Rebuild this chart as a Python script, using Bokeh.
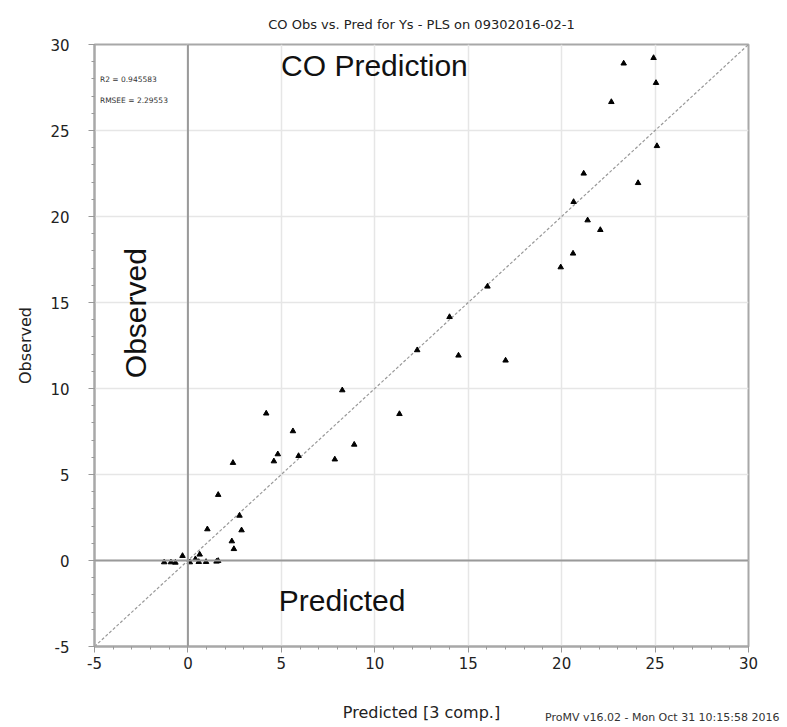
from bokeh.plotting import figure
from bokeh.models import Range1d, Span, Label, SingleIntervalTicker, PrintfTickFormatter, Div
from bokeh.layouts import column
from bokeh.embed import file_html
from bokeh.resources import INLINE
import math

# Predicted (x) vs Observed (y) values
predicted = [24.92, 23.32, 25.05, 22.66, 25.10, 21.18, 24.09, 20.64, 21.39, 22.07,
             20.61, 19.95, 16.03, 14.00, 12.27, 14.48, 17.00, 8.26, 11.32, 4.19,
             5.62, 8.90, 4.81, 5.92, 4.60, 7.86, 2.41, 1.62, 2.76, 1.04,
             2.87, 2.35, 2.46, -0.29, 0.63, 0.40, 0.10, 0.58, 0.97, 1.53,
             1.62, -1.27, -0.91, -0.67]
observed = [29.22, 28.90, 27.77, 26.66, 24.10, 22.50, 21.95, 20.85, 19.78, 19.22,
            17.85, 17.05, 15.93, 14.16, 12.23, 11.92, 11.63, 9.90, 8.52, 8.55,
            7.52, 6.74, 6.18, 6.08, 5.77, 5.88, 5.68, 3.82, 2.61, 1.82,
            1.76, 1.12, 0.67, 0.27, 0.35, 0.08, -0.10, -0.08, -0.08, -0.06,
            -0.02, -0.10, -0.10, -0.12]
diag = [-5, 30]
axis_min, axis_max = -5, 30

title_text = "CO Obs vs. Pred for Ys - PLS on 09302016-02-1"
r2_text = "R2 = 0.945583"
rmsee_text = "RMSEE = 2.29553"
footer_text = "ProMV v16.02 - Mon Oct 31 10:15:58 2016"

p = figure(width=779, height=725, output_backend="svg", toolbar_location=None,
           x_range=Range1d(axis_min, axis_max), y_range=Range1d(axis_min, axis_max),
           min_border_left=94, min_border_right=31, min_border_top=44, min_border_bottom=79,
           title=title_text)

p.title.align = "center"
p.title.vertical_align = "top"
p.title.text_font = "DejaVu Sans"
p.title.text_font_size = "13px"
p.title.text_font_style = "normal"
p.title.text_color = "#222222"
p.title.standoff = 22

p.outline_line_color = "#a8a8a8"
p.outline_line_width = 2

for ax in (p.xaxis[0], p.yaxis[0]):
    ax.ticker = SingleIntervalTicker(interval=5, num_minor_ticks=5)
    ax.formatter = PrintfTickFormatter(format="%d")
    ax.axis_line_color = "#a8a8a8"
    ax.axis_line_width = 2
    ax.major_tick_line_color = "#999999"
    ax.minor_tick_line_color = "#999999"
    ax.major_tick_out = 6
    ax.major_tick_in = 0
    ax.minor_tick_out = 3
    ax.minor_tick_in = 0
    ax.major_label_text_font = "DejaVu Sans"
    ax.major_label_text_font_size = "15px"
    ax.major_label_text_color = "#222222"
    ax.axis_label_text_font = "DejaVu Sans"
    ax.axis_label_text_font_size = "16px"
    ax.axis_label_text_font_style = "normal"
    ax.axis_label_text_color = "#222222"

p.xaxis.axis_label = "Predicted [3 comp.]"
p.yaxis.axis_label = "Observed"
p.xaxis.major_label_standoff = 4
p.xaxis.axis_label_standoff = 31
p.yaxis.major_label_standoff = 19
p.yaxis.axis_label_standoff = 12

p.grid.grid_line_color = "#e6e6e6"
p.grid.grid_line_width = 1.5

p.add_layout(Span(location=0, dimension="height", line_color="#9a9a9a", line_width=2))
p.add_layout(Span(location=0, dimension="width", line_color="#9a9a9a", line_width=2))

p.line(diag, diag, line_color="#999999", line_width=1.2, line_dash="3 2")

p.scatter(predicted, observed, marker="triangle", size=5.5,
          fill_color="black", line_color="black")

big = dict(text_font="Liberation Sans", text_font_size="30px", text_color="#111111",
           text_align="center", text_baseline="middle")
p.add_layout(Label(x=9.98, y=28.8, text="CO Prediction", **big))
p.add_layout(Label(x=8.25, y=-2.31, text="Predicted", **big))
p.add_layout(Label(x=-2.82, y=14.38, text="Observed", angle=math.pi / 2, **big))

small = dict(text_font="DejaVu Sans", text_font_size="7.5px", text_color="#333333",
             text_align="left", text_baseline="middle")
p.add_layout(Label(x=-4.71, y=27.97, text=r2_text, **small))
p.add_layout(Label(x=-4.71, y=26.76, text=rmsee_text, **small))

footer = Div(text=footer_text, width=244, height=14, margin=(-15, 0, 0, 545),
             styles={"font-family": "DejaVu Sans", "font-size": "11px",
                     "color": "#333333", "white-space": "nowrap"})

layout = column(p, footer, spacing=0)

open("out.html", "w").write(file_html(layout, INLINE))
